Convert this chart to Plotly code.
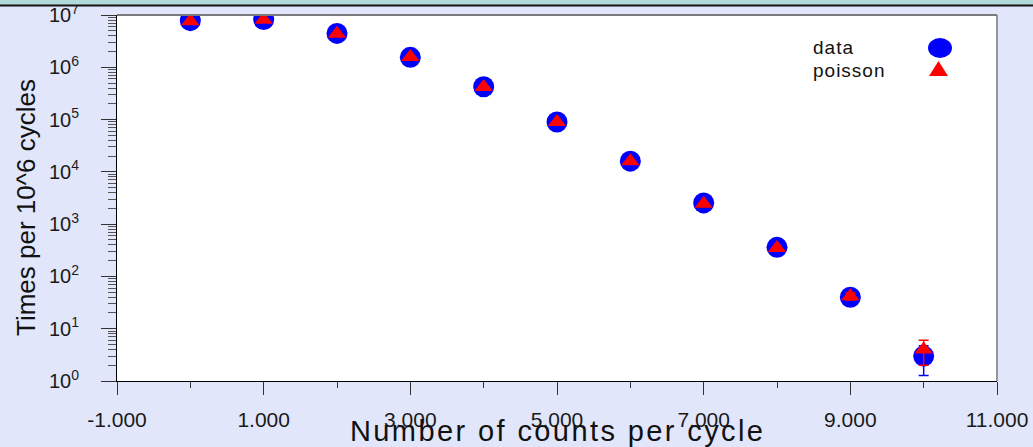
import plotly.graph_objects as go

# ---- data ----
counts = [0, 1, 2, 3, 4, 5, 6, 7, 8, 9, 10]
data_vals = [7.8e6, 8.2e6, 4.45e6, 1.55e6, 4.25e5, 9.0e4, 1.6e4, 2.55e3, 360, 40, 3]
data_err = [2790, 2860, 2110, 1245, 652, 300, 126, 50, 19, 6.3, 1.73]
poisson_vals = [7.6e6, 8.1e6, 4.4e6, 1.57e6, 4.2e5, 9.0e4, 1.6e4, 2.45e3, 350, 42, 4]
poisson_err = [2760, 2850, 2100, 1250, 648, 300, 126, 49, 18.7, 6.5, 2.0]

x_tickvals = [-1, 1, 3, 5, 7, 9, 11]
x_ticktext = ["-1.000", "1.000", "3.000", "5.000", "7.000", "9.000", "11.000"]
x_minor = [0, 2, 4, 6, 8, 10]
y_exponents = [0, 1, 2, 3, 4, 5, 6, 7]

W, H = 1033, 447
ML, MR, MT, MB = 117, 36, 15, 66
PW, PH = W - ML - MR, H - MT - MB

def px(x):
    return (x - ML) / PW

def py(y):
    return (H - MB - y) / PH

BG = "#e1e6fa"
FONT = "Liberation Sans, Arial, sans-serif"

fig = go.Figure()
fig.add_trace(go.Scatter(
    x=counts, y=data_vals, mode="markers", name="data",
    marker=dict(symbol="circle", size=21, color="#0000ff", line=dict(width=0)),
    error_y=dict(type="data", array=data_err, visible=True, color="#0000ff",
                 thickness=1.5, width=5),
))
fig.add_trace(go.Scatter(
    x=counts, y=poisson_vals, mode="markers", name="poisson",
    marker=dict(symbol="triangle-up", size=16, color="#ff0000", line=dict(width=0)),
    error_y=dict(type="data", array=poisson_err, visible=True, color="#ff0000",
                 thickness=1.5, width=5),
))

fig.update_layout(
    width=W, height=H,
    margin=dict(l=ML, r=MR, t=MT, b=MB, pad=0, autoexpand=False),
    paper_bgcolor=BG, plot_bgcolor="white",
    showlegend=False,
    font=dict(family=FONT, color="#1a1a1a"),
)

fig.update_xaxes(
    range=[-1, 11], showgrid=False, zeroline=False, automargin=False,
    showline=True, linecolor="black", linewidth=1,
    tickmode="array", tickvals=x_tickvals, ticktext=x_ticktext,
    ticks="outside", ticklen=13, tickwidth=1, tickcolor="#333333",
    tickfont=dict(size=21, family=FONT, color="#1a1a1a"),
    ticklabelstandoff=7,
    minor=dict(tickmode="array", tickvals=x_minor, ticks="outside",
               ticklen=6, tickwidth=1, tickcolor="#333333"),
)

fig.update_yaxes(
    type="log", range=[0, 7], showgrid=False, zeroline=False, automargin=False,
    showline=True, linecolor="black", linewidth=1,
    tickmode="array", tickvals=[10 ** k for k in y_exponents],
    ticktext=[f"10<sup>{k}</sup>" for k in y_exponents],
    ticks="outside", ticklen=15, tickwidth=1, tickcolor="#333333",
    tickfont=dict(size=20, family=FONT, color="#1a1a1a"),
    ticklabelstandoff=18,
    minor=dict(ticks="outside", ticklen=8, tickwidth=1, tickcolor="#555555",
               dtick="D1", showgrid=False),
)

shapes = [
    # top teal strip and black rule
    dict(type="rect", xref="paper", yref="paper", x0=px(0), x1=px(W), y0=py(5), y1=py(0),
         fillcolor="#b3dada", line=dict(width=0), layer="above"),
    dict(type="line", xref="paper", yref="paper", x0=px(0), x1=px(W), y0=py(5.5), y1=py(5.5),
         line=dict(color="#151515", width=2), layer="above"),
    # gray frame top and right
    dict(type="line", xref="paper", yref="paper", x0=0, x1=1, y0=1, y1=1,
         line=dict(color="#7a7a7a", width=2)),
    dict(type="line", xref="paper", yref="paper", x0=1, x1=1, y0=0, y1=1,
         line=dict(color="#7a7a7a", width=1.5)),
    # legend symbols
    dict(type="circle", xref="paper", yref="paper", x0=px(928), x1=px(952), y0=py(58), y1=py(38),
         fillcolor="#0000ff", line=dict(width=0)),
    dict(type="path", xref="paper", yref="paper",
         path=f"M {px(929)} {py(76)} L {px(948)} {py(76)} L {px(938.5)} {py(61)} Z",
         fillcolor="#ff0000", line=dict(width=0)),
]

annotations = [
    dict(text='<span style="letter-spacing:2.4px">Number of counts per cycle</span>',
         xref="paper", yref="paper", x=0.5, y=py(431), xanchor="center", yanchor="middle",
         showarrow=False, font=dict(size=29, family=FONT, color="#111111")),
    dict(text="Times per 10^6 cycles", textangle=-90,
         xref="paper", yref="paper", x=px(26), y=py(208), xanchor="center", yanchor="middle",
         showarrow=False, font=dict(size=26, family=FONT, color="#111111")),
    dict(text='<span style="letter-spacing:1px">data</span>', xref="paper", yref="paper",
         x=px(811), y=py(48), xanchor="left", yanchor="middle",
         showarrow=False, font=dict(size=19, family=FONT, color="#111111")),
    dict(text='<span style="letter-spacing:1px">poisson</span>', xref="paper", yref="paper",
         x=px(811), y=py(71), xanchor="left", yanchor="middle",
         showarrow=False, font=dict(size=19, family=FONT, color="#111111")),
]

fig.update_layout(shapes=shapes, annotations=annotations)
fig.write_html("out.html")
